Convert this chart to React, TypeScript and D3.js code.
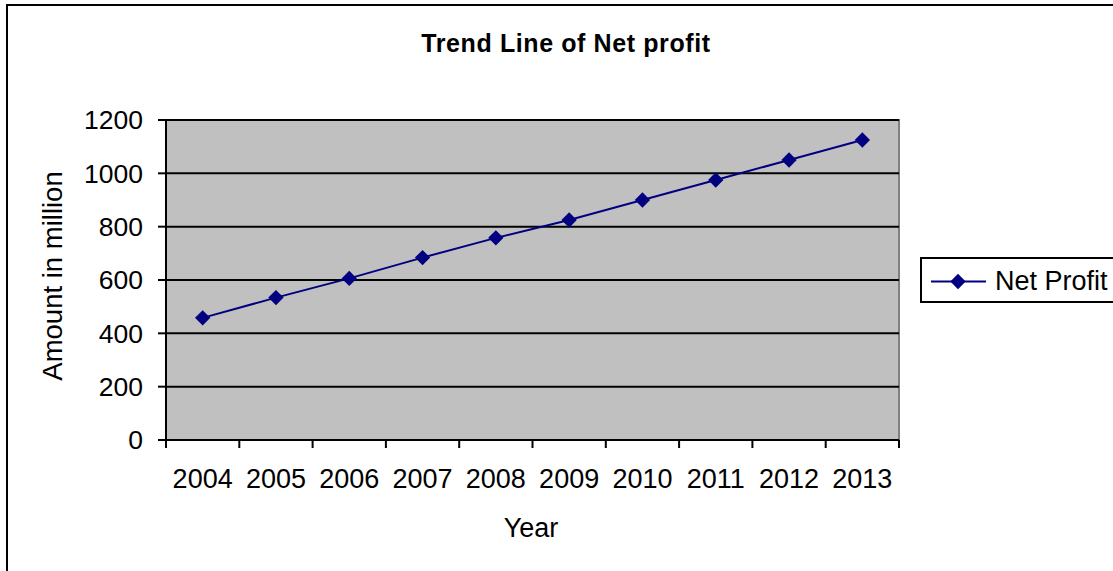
import React from "react";
import * as d3 from "d3";

const years = ["2004", "2005", "2006", "2007", "2008", "2009", "2010", "2011", "2012", "2013"];
const netProfit = [458, 534, 606, 684, 758, 825, 900, 975, 1050, 1125];
const yTicks = [0, 200, 400, 600, 800, 1000, 1200];
const seriesName = "Net Profit";
const title = "Trend Line of Net profit";
const xTitle = "Year";
const yTitle = "Amount in million";

const W = 1113;
const H = 571;
const plot = { left: 166, right: 899, top: 120, bottom: 440 };
const FONT = "Arial, 'Liberation Sans', sans-serif";
const NAVY = "#000080";

export default function App() {
  const x = d3.scaleBand<string>().domain(years).range([plot.left, plot.right]).padding(0);
  const y = d3.scaleLinear().domain([0, 1200]).range([plot.bottom, plot.top]);
  const line = d3
    .line<number>()
    .x((_, i) => (x(years[i]) as number) + x.bandwidth() / 2)
    .y((d) => y(d));
  const diamond = d3.symbol().type(d3.symbolDiamond2).size(150)() as string;
  const boundaries = years.map((yr) => x(yr) as number).concat([plot.right]);

  return (
    <svg
      width={W}
      height={H}
      style={{ position: "absolute", left: 0, top: 0, background: "#fff" }}
      fontFamily={FONT}
    >
      <rect x={7} y={5} width={1300} height={800} fill="#fff" stroke="#000" strokeWidth={2} />
      <text x={566} y={52} textAnchor="middle" fontSize={25} fontWeight="bold" letterSpacing={0.6}>
        {title}
      </text>
      {/* plot area */}
      <rect
        x={plot.left}
        y={plot.top}
        width={plot.right - plot.left}
        height={plot.bottom - plot.top}
        fill="#C0C0C0"
        stroke="#808080"
        strokeWidth={2}
      />
      {yTicks.map((t) => (
        <g key={t}>
          {t > 0 && (
            <line x1={plot.left} x2={plot.right} y1={y(t)} y2={y(t)} stroke="#000" strokeWidth={2} />
          )}
          <line x1={plot.left - 8} x2={plot.left} y1={y(t)} y2={y(t)} stroke="#000" strokeWidth={2} />
          <text x={143} y={y(t)} dy="0.35em" textAnchor="end" fontSize={26.5}>
            {t}
          </text>
        </g>
      ))}
      {/* axes */}
      <line x1={plot.left} x2={plot.left} y1={plot.top} y2={plot.bottom} stroke="#000" strokeWidth={2} />
      <line x1={plot.left} x2={plot.right} y1={plot.bottom} y2={plot.bottom} stroke="#000" strokeWidth={2} />
      {boundaries.map((b, i) => (
        <line key={i} x1={b} x2={b} y1={plot.bottom} y2={plot.bottom + 8} stroke="#000" strokeWidth={2} />
      ))}
      {years.map((yr) => (
        <text
          key={yr}
          x={(x(yr) as number) + x.bandwidth() / 2}
          y={488}
          textAnchor="middle"
          fontSize={27}
        >
          {yr}
        </text>
      ))}
      <text x={531} y={537} textAnchor="middle" fontSize={27}>
        {xTitle}
      </text>
      <text
        transform={`translate(62, 276) rotate(-90)`}
        textAnchor="middle"
        fontSize={27.5}
      >
        {yTitle}
      </text>
      {/* series */}
      <path d={line(netProfit) as string} fill="none" stroke={NAVY} strokeWidth={2} />
      {netProfit.map((v, i) => (
        <path
          key={i}
          d={diamond}
          transform={`translate(${(x(years[i]) as number) + x.bandwidth() / 2}, ${y(v)})`}
          fill={NAVY}
        />
      ))}
      {/* legend */}
      <rect x={921} y={258} width={300} height={44} fill="#fff" stroke="#000" strokeWidth={2} />
      <line x1={931} x2={986} y1={281.5} y2={281.5} stroke={NAVY} strokeWidth={2} />
      <path d={diamond} transform="translate(958, 281.5)" fill={NAVY} />
      <text x={995} y={290} fontSize={27}>
        {seriesName}
      </text>
    </svg>
  );
}
